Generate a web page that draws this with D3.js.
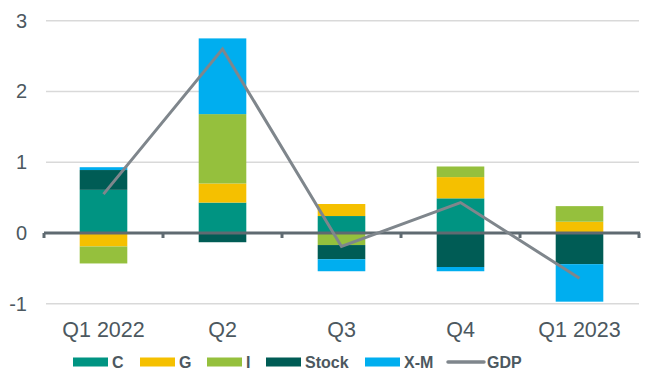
<!DOCTYPE html>
<html>
<head>
<meta charset="utf-8">
<script src="https://cdn.jsdelivr.net/npm/d3@7"></script>
<style>
  body { margin: 0; background: #fff; }
  svg text { font-family: "Liberation Sans", Arial, sans-serif; fill: #4c5860; }
</style>
</head>
<body>
<div id="chart"></div>
<script>
// Data
const categories = ["Q1 2022", "Q2", "Q3", "Q4", "Q1 2023"];
const seriesNames = ["C", "G", "I", "Stock", "X-M"];
const C     = [0.61, 0.43, 0.24, 0.49, 0.00];
const G     = [-0.19, 0.27, 0.17, 0.30, 0.16];
const I     = [-0.24, 0.98, -0.17, 0.15, 0.22];
const Stock = [0.28, -0.13, -0.20, -0.48, -0.44];
const XM    = [0.04, 1.07, -0.17, -0.06, -0.53];
const GDP   = [0.55, 2.60, -0.19, 0.43, -0.64];
const yTicks = [-1, 0, 1, 2, 3];

const colors = {"C": "#009482", "G": "#f5c000", "I": "#95c03d", "Stock": "#005c55", "X-M": "#00aeef"};
const gdpColor = "#7f868c";

// rows for d3.stack
const rows = categories.map((c, i) => ({
    cat: c, "C": C[i], "G": G[i], "I": I[i], "Stock": Stock[i], "X-M": XM[i]
}));

const width = 649, height = 384;
const margin = {top: 20.7, right: 10, bottom: 80.2, left: 44};

const svg = d3.select("#chart").append("svg")
    .attr("width", width)
    .attr("height", height);

const x = d3.scaleBand()
    .domain(categories)
    .range([margin.left, 639])
    .paddingInner(0.6)
    .paddingOuter(0.3);

const xc = d3.scalePoint()
    .domain(categories)
    .range([margin.left, 639])
    .padding(0.5);

const y = d3.scaleLinear()
    .domain([-1, 3])
    .range([height - margin.bottom, margin.top]);

// Gridlines
svg.append("g")
    .selectAll("line")
    .data(yTicks.filter(d => d !== 0))
    .join("line")
    .attr("x1", 46)
    .attr("x2", 639)
    .attr("y1", d => y(d))
    .attr("y2", d => y(d))
    .attr("stroke", "#d9d9d9")
    .attr("stroke-width", 1.5);

// Y axis labels
svg.append("g")
    .selectAll("text")
    .data(yTicks)
    .join("text")
    .attr("x", 27)
    .attr("y", d => y(d))
    .attr("dy", "0.35em")
    .attr("text-anchor", "end")
    .style("font-size", "20px")
    .text(d => d);

// Stacked bars
const stack = d3.stack()
    .keys(seriesNames)
    .offset(d3.stackOffsetDiverging);

const layers = stack(rows);

svg.append("g")
    .selectAll("g")
    .data(layers)
    .join("g")
    .attr("fill", d => colors[d.key])
    .selectAll("rect")
    .data(d => d)
    .join("rect")
    .attr("x", d => x(d.data.cat))
    .attr("width", x.bandwidth())
    .attr("y", d => y(Math.max(d[0], d[1])))
    .attr("height", d => Math.abs(y(d[0]) - y(d[1])));

// Zero axis with ticks between categories
const axisG = svg.append("g");
axisG.append("line")
    .attr("x1", margin.left)
    .attr("x2", 640)
    .attr("y1", y(0))
    .attr("y2", y(0))
    .attr("stroke", "#5f6a71")
    .attr("stroke-width", 3);

const bounds = d3.range(categories.length + 1).map(i => margin.left + i * (639 - margin.left) / categories.length);
axisG.selectAll("line.tick")
    .data(bounds)
    .join("line")
    .attr("class", "tick")
    .attr("x1", d => d)
    .attr("x2", d => d)
    .attr("y1", y(0))
    .attr("y2", y(0) + 5)
    .attr("stroke", "#5f6a71")
    .attr("stroke-width", 3);

// X labels
svg.append("g")
    .selectAll("text")
    .data(categories)
    .join("text")
    .attr("x", d => xc(d))
    .attr("y", 329)
    .attr("dy", "0.35em")
    .attr("text-anchor", "middle")
    .style("font-size", "21.5px")
    .text(d => d);

// GDP line
const line = d3.line()
    .x((d, i) => xc(categories[i]))
    .y(d => y(d));

svg.append("path")
    .datum(GDP)
    .attr("d", line)
    .attr("fill", "none")
    .attr("stroke", gdpColor)
    .attr("stroke-width", 3);

// Legend
const legendItems = [
    {name: "C", x: 73, type: "rect"},
    {name: "G", x: 140, type: "rect"},
    {name: "I", x: 207, type: "rect"},
    {name: "Stock", x: 266, type: "rect"},
    {name: "X-M", x: 365, type: "rect"},
    {name: "GDP", x: 448, type: "line"}
];

const legend = svg.append("g");
legendItems.forEach(item => {
    if (item.type === "rect") {
        legend.append("rect")
            .attr("x", item.x)
            .attr("y", 357.5)
            .attr("width", 35)
            .attr("height", 9)
            .attr("fill", colors[item.name]);
    } else {
        legend.append("line")
            .attr("x1", item.x)
            .attr("x2", item.x + 36)
            .attr("y1", 362)
            .attr("y2", 362)
            .attr("stroke", gdpColor)
            .attr("stroke-width", 3.5)
            .attr("stroke-linecap", "round");
    }
    legend.append("text")
        .attr("x", item.x + 39)
        .attr("y", 362)
        .attr("dy", "0.35em")
        .style("font-size", "16px")
        .style("font-weight", "bold")
        .text(item.name);
});
</script>
</body>
</html>
